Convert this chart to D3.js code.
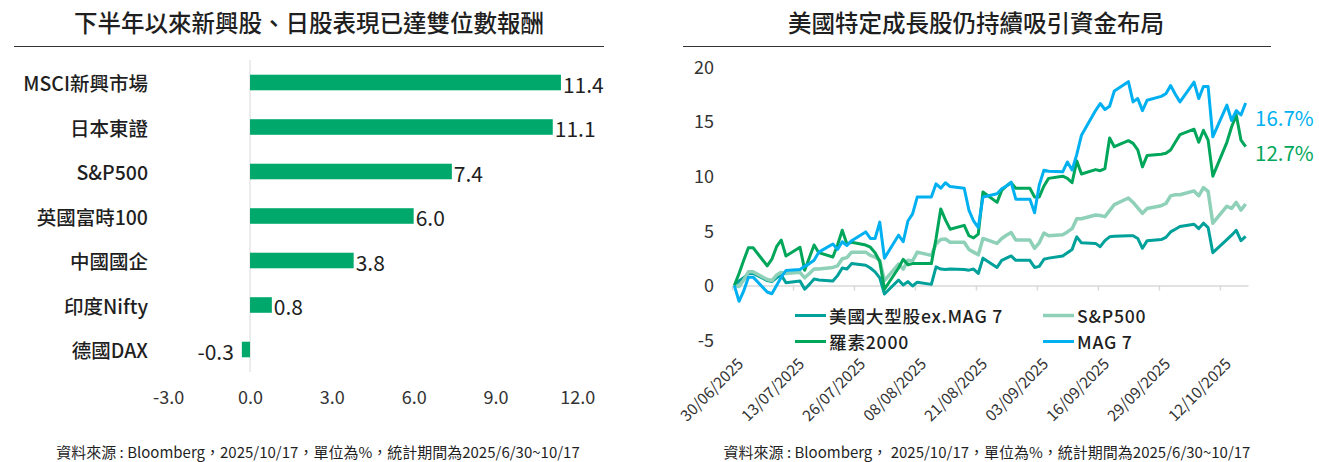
<!DOCTYPE html>
<html>
<head>
<meta charset="utf-8">
<script src="https://cdn.jsdelivr.net/npm/d3@7"></script>
<style>
  body { margin: 0; background: #fff; }
  svg { display: block; font-family: "Noto Sans CJK TC", "Noto Sans", sans-serif; }
</style>
</head>
<body>
<svg id="chart" width="1319" height="462"></svg>
<script>
// ---- left panel data ----
const barCategories = ["MSCI新興市場", "日本東證", "S&P500", "英國富時100", "中國國企", "印度Nifty", "德國DAX"];
const barValues = [11.4, 11.1, 7.4, 6.0, 3.8, 0.8, -0.3];
const barTicks = [-3, 0, 3, 6, 9, 12];

// ---- right panel data (weekdays, % since 2025/6/30) ----
const lineDates = [
  "2025-06-30","2025-07-01","2025-07-02","2025-07-03","2025-07-04",
  "2025-07-07","2025-07-08","2025-07-09","2025-07-10","2025-07-11",
  "2025-07-14","2025-07-15","2025-07-16","2025-07-17","2025-07-18",
  "2025-07-21","2025-07-22","2025-07-23","2025-07-24","2025-07-25",
  "2025-07-28","2025-07-29","2025-07-30","2025-07-31","2025-08-01",
  "2025-08-04","2025-08-05","2025-08-06","2025-08-07","2025-08-08",
  "2025-08-11","2025-08-12","2025-08-13","2025-08-14","2025-08-15",
  "2025-08-18","2025-08-19","2025-08-20","2025-08-21","2025-08-22",
  "2025-08-25","2025-08-26","2025-08-27","2025-08-28","2025-08-29",
  "2025-09-01","2025-09-02","2025-09-03","2025-09-04","2025-09-05",
  "2025-09-08","2025-09-09","2025-09-10","2025-09-11","2025-09-12",
  "2025-09-15","2025-09-16","2025-09-17","2025-09-18","2025-09-19",
  "2025-09-22","2025-09-23","2025-09-24","2025-09-25","2025-09-26",
  "2025-09-29","2025-09-30","2025-10-01","2025-10-02","2025-10-03",
  "2025-10-06","2025-10-07","2025-10-08","2025-10-09","2025-10-10",
  "2025-10-13","2025-10-14","2025-10-15","2025-10-16","2025-10-17"
];
const exMag7 = [
  0, 0.4, 0.7, 1.1, 1.1,   0.45, 0.35, 0.7, 0.95, 0.25,   0.4, -0.35, 0.1, 0.6, 0.5,
  0.4, 0.9, 1.6, 1.5, 2.0,   1.85, 1.6, 1.25, 0.7, -0.78,   0.5, 0.05, 0.35, -0.05, 0.3,
  0.1, 1.7, 1.5, 1.45, 1.5,   1.45, 1.4, 1.5, 1.1, 2.5,   1.65, 2.3, 2.5, 2.7, 2.3,
  2.3, 1.65, 1.75, 2.4, 2.5,   2.7, 3.0, 3.3, 4.45, 3.9,   3.85, 3.55, 4.1, 4.45, 4.5,
  4.55, 4.55, 4.3, 3.4, 4.1,   4.2, 4.4, 4.9, 5.15, 5.4,   5.6, 5.2, 5.7, 5.3, 3.0,
  4.2, 4.6, 5.05, 4.1, 4.5
];
const sp500 = [
  0, -0.1, 0.5, 1.25, 1.25,   0.55, 0.45, 0.95, 1.2, 1.1,   1.2, 0.7, 1.1, 1.5, 1.5,
  1.65, 1.8, 2.45, 2.55, 3.05,   3.05, 2.75, 2.6, 2.3, 0.45,   1.95, 1.5, 2.3, 2.25, 3.05,
  2.75, 3.8, 4.2, 4.25, 3.95,   3.95, 3.3, 3.05, 2.8, 4.3,   3.85, 4.3, 4.6, 4.85, 4.15,
  4.15, 3.4, 3.9, 4.8, 4.55,   4.65, 4.9, 5.2, 6.1, 6.1,   6.45, 6.4, 6.3, 6.85, 7.4,
  8.0, 7.6, 7.1, 6.6, 7.05,   7.3, 7.5, 8.2, 8.3, 8.3,   8.65, 8.2, 8.95, 8.6, 5.7,
  7.25, 7.05, 7.6, 6.9, 7.45
];
const russell2000 = [
  0, 1.1, 2.3, 3.45, 3.45,   1.8, 2.4, 3.55, 4.15, 2.7,   3.5, 1.4, 2.55, 3.7, 3.0,
  2.6, 3.7, 5.05, 3.8, 3.95,   3.7, 3.5, 3.0, 2.2, -0.35,   1.6, 2.4, 1.9, 2.0, 2.0,
  2.0, 4.3, 7.0, 6.0, 5.15,   5.5, 4.55, 4.35, 4.7, 8.55,   7.6, 8.7, 9.1, 9.4, 8.9,
  8.9, 8.1, 8.1, 9.1, 9.8,   10.0, 9.8, 9.4, 11.4, 10.2,   10.6, 10.5, 10.7, 13.5, 12.7,
  13.25, 13.0, 12.4, 10.85, 11.9,   12.0, 12.1, 12.4, 13.1, 13.8,   14.3, 13.1, 14.2, 13.3, 10.0,
  13.1, 14.5, 15.6, 13.3, 12.7
];
const mag7 = [
  0, -1.45, -0.5, 0.76, 0.76,   -0.6, -0.76, 0.0, 0.76, 1.37,   1.46, 1.75, 2.0, 2.3, 3.05,
  3.8, 3.3, 4.0, 3.66, 4.1,   4.9, 4.3, 4.3, 5.8, 2.5,   4.6, 4.0, 5.9, 6.55, 8.1,
  8.1, 9.3, 8.9, 9.4, 9.05,   8.9, 6.9, 5.9, 5.3, 8.1,   8.4, 8.85, 9.1, 9.45, 7.9,
  7.9, 6.65, 9.2, 10.55, 10.45,   10.4, 11.3, 10.56, 12.0, 13.75,   16.0, 16.65, 16.1, 16.4, 17.8,
  18.65, 16.8, 17.1, 16.0, 16.95,   17.3, 17.55, 18.3, 17.5, 16.8,   18.6, 17.1, 18.2, 18.2, 13.6,
  16.5, 15.1, 16.0, 15.6, 16.7
];
const seriesNames = ["美國大型股ex.MAG 7", "S&P500", "羅素2000", "MAG 7"];
const lineTicks = [-5, 0, 5, 10, 15, 20];
const dateTickCount = 9;     // one label every 13 days from 30/06
const dateTickStep = 13;

const leftTitle = "下半年以來新興股、日股表現已達雙位數報酬";
const rightTitle = "美國特定成長股仍持續吸引資金布局";
const leftNote = "資料來源 : Bloomberg，2025/10/17，單位為%，統計期間為2025/6/30~10/17";
const rightNote = "資料來源 : Bloomberg， 2025/10/17，單位為%，統計期間為2025/6/30~10/17";

// ---- styles ----
const barColor = "#00a86b";
const lineColors = ["#00a19a", "#8fd1b8", "#00a65a", "#00b0f0"];
const lineWidths = [3, 3.5, 3, 3];
const textColor = "#1f1f1f";
const gridGray = "#d9d9d9";

// plain hyphen for negatives, like the original
const fmt = d3.formatLocale({ decimal: ".", thousands: ",", grouping: [3], currency: ["", ""], minus: "-" });
const fmt1 = fmt.format(".1f");
const fmt0 = fmt.format("d");

const svg = d3.select("#chart");
svg.append("rect").attr("width", 1319).attr("height", 462).attr("fill", "#fff");

// titles + rules
[[leftTitle, 309, 14, 604], [rightTitle, 976, 683, 1271]].forEach(([t, cx, x1, x2]) => {
  svg.append("text")
    .attr("x", cx).attr("y", 22)
    .attr("text-anchor", "middle").attr("dominant-baseline", "central")
    .attr("font-size", 23.5).attr("font-weight", 500).attr("fill", textColor)
    .text(t);
  svg.append("line")
    .attr("x1", x1).attr("x2", x2).attr("y1", 46.5).attr("y2", 46.5)
    .attr("stroke", "#333").attr("stroke-width", 1);
});

// footnotes
[[leftNote, 318], [rightNote, 987]].forEach(([t, cx]) => {
  svg.append("text")
    .attr("x", cx).attr("y", 451)
    .attr("text-anchor", "middle").attr("dominant-baseline", "central")
    .attr("font-size", 15).attr("fill", textColor)
    .text(t);
});

// ================= left: bar chart =================
const barX = d3.scaleLinear().domain([-3, 12]).range([168.2, 577.3]);
const barY = d3.scaleBand().domain(barCategories).range([60.25, 371.75])
  .paddingInner(0.65).paddingOuter(0.325);

const left = svg.append("g");

left.append("line")
  .attr("x1", barX(0)).attr("x2", barX(0))
  .attr("y1", 60).attr("y2", 372)
  .attr("stroke", gridGray).attr("stroke-width", 1);

left.selectAll(".bar")
  .data(barCategories)
  .join("rect")
  .attr("class", "bar")
  .attr("x", (d, i) => barX(Math.min(0, barValues[i])))
  .attr("width", (d, i) => Math.abs(barX(barValues[i]) - barX(0)))
  .attr("y", d => barY(d))
  .attr("height", barY.bandwidth())
  .attr("fill", barColor);

left.selectAll(".val")
  .data(barCategories)
  .join("text")
  .attr("class", "val")
  .attr("x", (d, i) => barValues[i] < 0 ? barX(barValues[i]) - 8 : barX(barValues[i]) + 2)
  .attr("y", d => barY(d) + barY.bandwidth() / 2 + 1)
  .attr("text-anchor", (d, i) => barValues[i] < 0 ? "end" : "start")
  .attr("dominant-baseline", "central")
  .attr("font-size", 21).attr("fill", textColor)
  .text((d, i) => fmt1(barValues[i]));

left.selectAll(".cat")
  .data(barCategories)
  .join("text")
  .attr("class", "cat")
  .attr("x", 148)
  .attr("y", d => barY(d) + barY.bandwidth() / 2)
  .attr("text-anchor", "end")
  .attr("dominant-baseline", "central")
  .attr("font-size", 19.5).attr("font-weight", 500).attr("fill", textColor)
  .text(d => d);

const barAxis = left.append("g")
  .attr("transform", "translate(0,398)")
  .call(d3.axisBottom(barX).tickValues(barTicks).tickSize(0).tickPadding(0).tickFormat(fmt1));
barAxis.select(".domain").remove();
barAxis.attr("font-family", null).attr("font-size", null);
barAxis.selectAll("text")
  .attr("y", 0).attr("dy", "0.35em")
  .attr("font-size", 18).attr("fill", "#333");

// ================= right: line chart =================
const parse = d3.timeParse("%Y-%m-%d");
const dates = lineDates.map(parse);
const start = dates[0];
const lx = d3.scaleTime()
  .domain([start, d3.timeDay.offset(dates[dates.length - 1], 1)])
  .range([732, 1248]);
const ly = d3.scaleLinear().domain([-5, 20]).range([340.1, 66.9]);

const right = svg.append("g");

// y labels
const yAxis = right.append("g")
  .attr("transform", "translate(714,0)")
  .call(d3.axisLeft(ly).tickValues(lineTicks).tickSize(0).tickPadding(0).tickFormat(fmt0));
yAxis.select(".domain").remove();
yAxis.attr("font-family", null).attr("font-size", null);
yAxis.selectAll("text").attr("font-size", 18).attr("fill", "#333").attr("dy", "0.35em");

// x axis on the zero line, labels at the bottom
const dateTicks = d3.range(dateTickCount).map(k => d3.timeDay.offset(start, k * dateTickStep));
const xAxis = right.append("g")
  .attr("transform", `translate(0,${ly(0)})`)
  .call(d3.axisBottom(lx).tickValues(dateTicks).tickSize(5).tickSizeOuter(0)
    .tickFormat(d3.timeFormat("%d/%m/%Y")));
xAxis.attr("font-family", null).attr("font-size", null);
xAxis.select(".domain").attr("stroke", gridGray).attr("stroke-width", 1.5);
xAxis.selectAll(".tick line").attr("stroke", gridGray).attr("stroke-width", 1.5);
xAxis.selectAll("text")
  .attr("y", 0).attr("dy", "0.35em")
  .attr("text-anchor", "end")
  .attr("transform", `translate(8,${ly(-5) - ly(0) + 21}) rotate(-45)`)
  .attr("font-size", 15.5).attr("fill", "#333");

// lines (points centred in their day)
const seriesValues = [exMag7, sp500, russell2000, mag7];
const line = d3.line()
  .x((d, i) => lx(d3.timeHour.offset(dates[i], 12)))
  .y(d => ly(d));

right.selectAll(".series")
  .data(seriesValues)
  .join("path")
  .attr("class", "series")
  .attr("fill", "none")
  .attr("stroke", (d, i) => lineColors[i])
  .attr("stroke-width", (d, i) => lineWidths[i])
  .attr("stroke-linejoin", "round")
  .attr("d", line);

// end labels for MAG 7 and Russell 2000
const endLabels = [
  { values: mag7, color: lineColors[3], shift: 14 },
  { values: russell2000, color: lineColors[2], shift: 5 }
];
endLabels.forEach(e => {
  const v = e.values[e.values.length - 1];
  right.append("text")
    .attr("x", 1255)
    .attr("y", ly(v) + e.shift)
    .attr("dominant-baseline", "central")
    .attr("font-size", 20.5).attr("fill", e.color)
    .text(fmt1(v) + "%");
});

// legend (2 x 2)
const legendCols = [795, 1043];
const legendRows = [315.5, 341.5];
seriesNames.forEach((name, i) => {
  const gx = legendCols[i % 2], gy = legendRows[Math.floor(i / 2)];
  const g = right.append("g").attr("transform", `translate(${gx},${gy})`);
  g.append("line")
    .attr("x1", 0).attr("x2", 31).attr("y1", 0).attr("y2", 0)
    .attr("stroke", lineColors[i]).attr("stroke-width", lineWidths[i]);
  g.append("text")
    .attr("x", 34).attr("y", 0)
    .attr("dominant-baseline", "central")
    .attr("font-size", 17.6).attr("font-weight", 500)
    .attr("letter-spacing", 0.8).attr("fill", textColor)
    .text(name);
});
</script>
</body>
</html>
